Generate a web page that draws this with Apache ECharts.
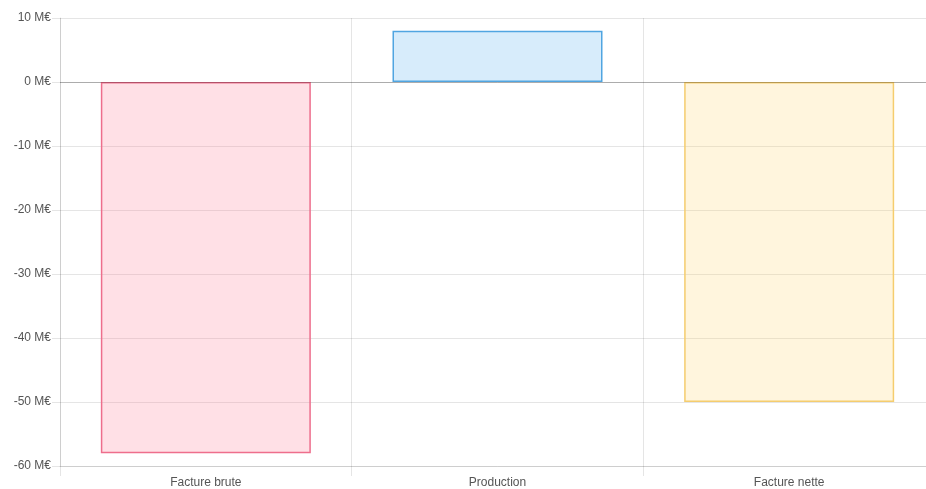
<!DOCTYPE html>
<html>
<head>
<meta charset="utf-8">
<script src="https://cdn.jsdelivr.net/npm/echarts@6/dist/echarts.min.js"></script>
<style>
html,body{margin:0;padding:0;background:#fff;overflow:hidden;width:926px;height:489px;}
#chart{width:935px;height:489px;}
</style>
</head>
<body>
<div id="chart"></div>
<script>
const categories = ['Facture brute', 'Production', 'Facture nette'];
const values = [-58, 8, -50];
const yTicks = { min: -60, max: 10, interval: 10 };

const fills = ['rgba(255,99,132,0.2)', 'rgba(54,162,235,0.2)', 'rgba(255,206,86,0.2)'];
const borders = ['rgb(238,110,140)', 'rgb(80,165,225)', 'rgb(245,205,110)'];

const chart = echarts.init(document.getElementById('chart'), null, { renderer: 'canvas' });
const font = 'Liberation Sans, Arial, Helvetica, sans-serif';
chart.setOption({
  animation: false,
  grid: { left: 60, right: 0, top: 18, bottom: 22, containLabel: false },
  xAxis: {
    type: 'category',
    data: categories,
    boundaryGap: true,
    axisLine: { show: true, onZero: false, lineStyle: { color: 'rgba(0,0,0,0.1)' } },
    axisTick: { show: true, length: 10, alignWithLabel: false, lineStyle: { color: 'rgba(0,0,0,0.1)' } },
    splitLine: { show: true, lineStyle: { color: 'rgba(0,0,0,0.1)' } },
    axisLabel: { color: '#555', fontSize: 12, fontFamily: font, margin: 11 }
  },
  yAxis: {
    type: 'value',
    min: yTicks.min, max: yTicks.max, interval: yTicks.interval,
    axisLine: { show: true, lineStyle: { color: 'rgba(0,0,0,0.1)' } },
    axisTick: { show: true, length: 8, lineStyle: { color: 'rgba(0,0,0,0.1)' } },
    splitLine: { show: true, lineStyle: { color: 'rgba(0,0,0,0.1)' } },
    axisLabel: { color: '#555', fontSize: 12, fontFamily: font, margin: 9, formatter: '{value} M€' }
  },
  series: [{
    type: 'bar',
    barWidth: '72%',
    data: values.map((v, i) => ({
      value: v,
      itemStyle: { color: fills[i], borderColor: borders[i], borderWidth: 1.5 }
    })),
    markLine: {
      silent: true, symbol: 'none', label: { show: false },
      lineStyle: { color: 'rgba(0,0,0,0.25)', type: 'solid', width: 1 },
      data: [{ yAxis: 0 }]
    }
  }]
});
</script>
</body>
</html>
